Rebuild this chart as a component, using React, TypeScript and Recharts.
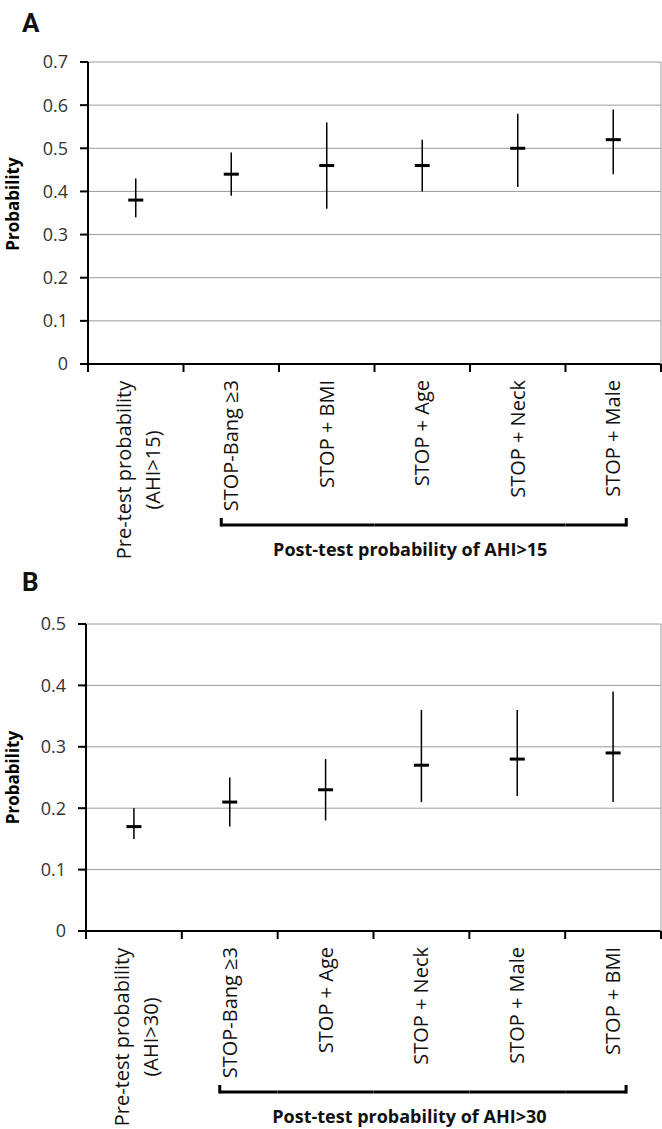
import React from 'react';
import { ComposedChart, Line, XAxis, YAxis, CartesianGrid, ErrorBar } from 'recharts';

// Panel A: AHI>15
const catsA = ['Pre-test probability\n(AHI>15)', 'STOP-Bang ≥3', 'STOP + BMI', 'STOP + Age', 'STOP + Neck', 'STOP + Male'];
const probA = [0.38, 0.44, 0.46, 0.46, 0.5, 0.52];
const lowA = [0.34, 0.39, 0.36, 0.4, 0.41, 0.44];
const highA = [0.43, 0.49, 0.56, 0.52, 0.58, 0.59];
const ticksA = [0, 0.1, 0.2, 0.3, 0.4, 0.5, 0.6, 0.7];

// Panel B: AHI>30
const catsB = ['Pre-test probability\n(AHI>30)', 'STOP-Bang ≥3', 'STOP + Age', 'STOP + Neck', 'STOP + Male', 'STOP + BMI'];
const probB = [0.17, 0.21, 0.23, 0.27, 0.28, 0.29];
const lowB = [0.15, 0.17, 0.18, 0.21, 0.22, 0.21];
const highB = [0.2, 0.25, 0.28, 0.36, 0.36, 0.39];
const ticksB = [0, 0.1, 0.2, 0.3, 0.4, 0.5];

const FONT = '"Open Sans", "Noto Sans", Arial, sans-serif';
const W = 662;

const CatTick = (props: any) => {
  const { x, y, index, payload, band, n, caption } = props;
  const lines = String(payload.value).split('\n');
  const last = index === n - 1;
  const by = y + 161;
  const els: any[] = [];

  els.push(<line key="t0" x1={x - band / 2} x2={x - band / 2} y1={y} y2={y + 8} stroke="#000" strokeWidth={2} />);
  if (last) els.push(<line key="t1" x1={x + band / 2} x2={x + band / 2} y1={y} y2={y + 8} stroke="#000" strokeWidth={2} />);

  if (lines.length === 1) {
    const ty = y + 16;
    els.push(
      <text key="lbl" x={x} y={ty} dy="0.35em" transform={`rotate(-90 ${x} ${ty})`} textAnchor="end"
        fontSize={20} fill="#111" fontFamily={FONT}>{lines[0]}</text>
    );
  } else {
    const ty = y + 106;
    els.push(
      <text key="lbl" x={x} y={ty} transform={`rotate(-90 ${x} ${ty})`} textAnchor="middle"
        fontSize={20} fill="#111" fontFamily={FONT}>
        <tspan x={x} dy={-5}>{lines[0]}</tspan>
        <tspan x={x} dy={29}>{lines[1]}</tspan>
      </text>
    );
  }

  // bracket under the post-test categories
  if (index >= 1) {
    const x1 = index === 1 ? x - 10 : x - band / 2;
    const x2 = last ? x + 13 : x + band / 2;
    els.push(<line key="br" x1={x1} x2={x2} y1={by} y2={by} stroke="#000" strokeWidth={3} />);
    if (index === 1) els.push(<line key="s1" x1={x1} x2={x1} y1={by - 7} y2={by + 1.5} stroke="#000" strokeWidth={3} />);
    if (last) els.push(<line key="s2" x1={x2} x2={x2} y1={by - 7} y2={by + 1.5} stroke="#000" strokeWidth={3} />);
  }
  if (index === 3) {
    els.push(
      <text key="cap" x={x - 12} y={y + 192} textAnchor="middle" fontSize={18} fontWeight="bold"
        fill="#111" fontFamily={FONT}>{caption}</text>
    );
  }
  return <g>{els}</g>;
};

const ProbLabel = ({ cx, cy }: any) => (
  <text x={cx} y={cy} transform={`rotate(-90 ${cx} ${cy})`} textAnchor="middle" fontSize={17}
    fontWeight="bold" fill="#000" fontFamily={FONT}>Probability</text>
);

const Mark = (p: any) => (
  <rect key={`m${p.index}`} x={p.cx - 7.5} y={p.cy - 1.5} width={15} height={3} fill="#000" />
);

interface PanelProps {
  cats: string[];
  prob: number[];
  low: number[];
  high: number[];
  ticks: number[];
  caption: string;
  height: number;
  marginTop: number;
  yWidth: number;
  xHeight: number;
  labelShift: number;
}

const Panel = ({ cats, prob, low, high, ticks, caption, height, marginTop, yWidth, xHeight, labelShift }: PanelProps) => {
  const data = cats.map((name, i) => ({
    name,
    p: prob[i],
    err: [prob[i] - low[i], high[i] - prob[i]],
  }));
  const max = ticks[ticks.length - 1];
  const plotW = W - yWidth - 1;
  const band = plotW / cats.length;
  const plotH = height - marginTop - xHeight;

  return (
    <ComposedChart width={W} height={height} data={data} margin={{ top: marginTop, right: 0, bottom: 0, left: 0 }}>
      <CartesianGrid vertical={false} stroke="#9a9a9a" strokeWidth={1} />
      <XAxis
        dataKey="name"
        scale="point"
        padding={{ left: band / 2, right: band / 2 }}
        interval={0}
        tickSize={0}
        tickMargin={0}
        tickLine={false}
        axisLine={{ stroke: '#000', strokeWidth: 2 }}
        height={xHeight}
        tick={(p: any) => <CatTick {...p} band={band} n={cats.length} caption={caption} />}
      />
      <YAxis
        domain={[0, max]}
        ticks={ticks}
        interval={0}
        width={yWidth}
        tickSize={8}
        tickMargin={12}
        axisLine={{ stroke: '#000', strokeWidth: 2 }}
        tickLine={{ stroke: '#000', strokeWidth: 2 }}
        tick={{ fill: '#333', fontSize: 18, fontFamily: FONT }}
        tickFormatter={(v: number) => (v === 0 ? '0' : v.toFixed(1))}
        label={<ProbLabel cx={19} cy={marginTop + plotH / 2 + labelShift} />}
      />
      <YAxis
        yAxisId="r"
        orientation="right"
        width={1}
        domain={[0, max]}
        ticks={ticks}
        tick={false}
        tickLine={false}
        axisLine={{ stroke: '#9a9a9a', strokeWidth: 1 }}
      />
      <Line
        dataKey="p"
        stroke="none"
        isAnimationActive={false}
        activeDot={false}
        dot={Mark}
      >
        <ErrorBar dataKey="err" width={0} stroke="#000" strokeWidth={1.5} direction="y" />
      </Line>
    </ComposedChart>
  );
};

const letterStyle: React.CSSProperties = {
  position: 'absolute',
  left: 22,
  fontFamily: 'Roboto, "DejaVu Sans", sans-serif',
  fontWeight: 'bold',
  fontSize: 26,
  lineHeight: '26px',
  color: '#111',
};

export default function App() {
  return (
    <div style={{ position: 'absolute', left: 0, top: 0, width: W, height: 1129, background: '#fff', overflow: 'hidden' }}>
      <div style={{ position: 'absolute', left: 0, top: 0 }}>
        <Panel cats={catsA} prob={probA} low={lowA} high={highA} ticks={ticksA}
          caption="Post-test probability of AHI>15" height={570} marginTop={62} yWidth={88} xHeight={206} labelShift={-9} />
      </div>
      <div style={{ position: 'absolute', left: 0, top: 575 }}>
        <Panel cats={catsB} prob={probB} low={lowB} high={highB} ticks={ticksB}
          caption="Post-test probability of AHI>30" height={554} marginTop={49} yWidth={86} xHeight={198} labelShift={0} />
      </div>
      <div style={{ ...letterStyle, top: 10 }}>A</div>
      <div style={{ ...letterStyle, top: 569 }}>B</div>
    </div>
  );
}
